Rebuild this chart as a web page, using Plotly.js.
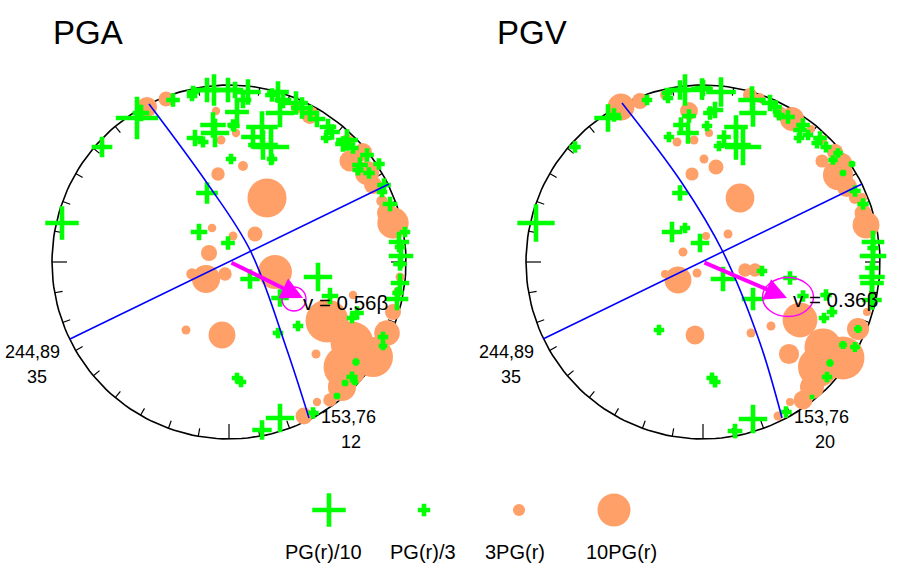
<!DOCTYPE html>
<html><head><meta charset="utf-8">
<script src="https://cdn.plot.ly/plotly-3.0.1.min.js"></script>
<style>html,body{margin:0;padding:0;background:#fff}</style></head>
<body><div id="chart" style="width:900px;height:570px"></div>
<script>
// Net centres and radius
const netCentreX = [229, 703];
const netCentreY = 262;
const netRadius = 177;

// PGA: sites with model over data (circles) and under data (crosses); ratio is PG(r) factor
const pgaCircleX = [147,166,216,236,221,218,243,212,233,209,267,255,350,310,297,347,363,367,373,382,393,387,275,206,192,225,186,222,327,352,345,373,342,387,393,400,398,353,316,330,317,304];
const pgaCircleY = [107,99,111,133,140,174,166,228,236,253,198,234,161,115,107,142,152,173,185,201,223,213,272,279,274,274,330,335,321,343,367,357,387,333,312,277,292,295,354,400,402,416];
const pgaCircleR = [6.3,4.7,2.6,2.6,2.8,4.2,3.1,2.7,2.8,5,12.2,4.7,6.6,5.6,4,4.7,5.6,7.5,5.6,3.6,9.8,6.3,10.6,8.8,3.6,4.2,2.8,8.4,13.4,13.4,13.4,12.5,8.8,8,5,2.8,3.1,2.6,2.8,4.2,2.6,5.3];
const pgaCrossX = [137,141,102,62,173,193,192,214,228,207,213,215,195,203,231,234,237,207,199,228,248,243,235,233,262,253,271,263,272,280,272,278,283,296,302,317,310,328,332,326,347,343,353,367,360,358,369,379,384,382,390,405,399,400,401,400,400,397,398,318,250,280,330,357,352,298,278,383,383,356,352,355,345,337,313,280,262,237,241];
const pgaCrossY = [118,113,147,223,100,92,96,90,90,90,125,133,138,142,159,126,112,193,232,243,92,100,90,125,127,137,147,145,159,113,95,92,100,103,108,119,113,127,132,138,140,144,148,155,165,170,173,164,185,192,204,232,242,247,256,264,283,299,293,277,279,298,296,313,318,326,333,337,346,362,377,382,383,396,413,418,430,378,382];
const pgaCrossR = [12.8,4.7,6,10,3.8,3.4,2.8,9.4,7.2,7.2,7.5,8.4,4.7,3,2.8,3.1,7,6.3,4.7,3.8,7.5,4.7,4.7,3.1,9.4,6.9,10.9,8.8,2.8,8.4,3.8,6.3,4.7,6.9,6.3,4.7,4.7,4.7,4.4,2.8,6.3,4.4,3.1,3.8,4.4,3,3.1,3.1,3.8,2.8,4.1,2.8,5.9,2.8,7.2,3.8,5.3,6.6,3.1,8.4,5.6,5,4.7,3.8,2.8,2.8,2.8,2.8,2.2,1.8,3,1.6,1.6,1.6,3.1,8.4,5.6,2.8,2.8];

// PGV
const pgvCircleX = [621,640,665,689,694,677,704,692,709,716,740,728,706,683,750,760,792,780,811,822,822,835,842,838,847,855,862,863,866,867,745,755,800,771,751,789,858,843,823,818,812,803,790,778,678,665,695,697];
const pgvCircleY = [107,101,95,111,140,142,159,174,133,167,198,234,236,252,95,98,119,113,129,140,161,152,163,175,187,198,198,213,225,312,270,270,320,326,333,354,329,358,347,367,387,400,402,416,280,274,335,273];
const pgvCircleR = [8.4,5,3.1,5.6,2.8,2.8,2.8,4.1,2.5,4.7,9,2.8,2.5,2.8,4.4,3,7.5,4.1,2.5,3.1,4.1,5,6.3,9.4,6.3,3.8,3.1,5.3,8.4,2.5,4.2,4.2,10.9,2.8,2.8,6.3,6.9,13.4,11.6,12.5,7.5,5.9,2.5,2.8,8.4,2.5,5.9,2.8];
const pgvCrossX = [647,667,668,689,608,614,575,536,685,680,702,681,688,669,680,672,685,700,721,715,710,707,703,736,724,719,743,736,752,753,770,775,779,788,803,800,799,808,820,817,826,833,838,843,852,855,863,873,873,873,872,872,872,872,790,762,723,753,803,826,832,824,659,786,753,735,712,715,827,830,843,855,858,812];
const pgvCrossY = [100,93,98,116,118,115,147,223,90,90,89,125,133,137,193,232,228,243,92,110,113,126,88,127,137,146,147,145,100,113,103,107,115,117,125,130,138,135,138,143,147,160,153,173,164,191,204,242,248,256,277,283,268,300,278,271,279,299,296,295,312,318,330,412,419,431,378,382,377,363,345,347,329,397];
const pgvCrossR = [2.8,2.8,2.8,3.8,8.1,3.8,3.1,11.2,9.4,5.6,6.3,4.4,6.3,2.8,4.4,5.9,2.8,5.3,8.8,4.7,3.8,2.8,4.7,6.9,3.8,2.8,10.9,8.8,8.1,8.1,4.7,3.8,3,3.8,3.8,3.8,2.8,2.8,3.8,3,3,2.5,2.5,1.6,1.6,3.1,3.1,6.6,3,7.8,7.5,6.9,3.8,5.6,3.8,2.8,7.2,6.6,3.1,3.1,2.8,2.8,2.8,3.1,8.4,4.1,3,3,2.8,1.8,2,2.6,2,1];

// Great circles
const pgaArcX = [149,207,250,287,309];
const pgaArcY = [104,183,250,350,418];
const pgaLineX = [70,389];
const pgaLineY = [339,184];
const pgvArcX = [622,682,723,760,782];
const pgvArcY = [103,183,252,343,418];
const pgvLineX = [543,862];
const pgvLineY = [339,184];

// Rupture velocity vectors: start, tip, error ellipse (centre, half axes)
const velStartX = [230,703];
const velStartY = [262,262];
const velTipX = [303,787];
const velTipY = [298,298];
const ellCentreX = [294,788];
const ellCentreY = [299,297];
const ellHalfX = [12,25.5];
const ellHalfY = [12,19.5];
const velText = ['v = 0.56\u03b2','v = 0.36\u03b2'];
const velTextX = [345,835];
const velTextY = [302,299];

// Legend
const legendX = [329,424,519,614];
const legendR = [10,3.4,3.8,10.3];
const legendText = ['PG(r)/10','PG(r)/3','3PG(r)','10PG(r)'];
const legendTextX = [323,423,515,621];
const legendTextY = 552;

// Titles and axis labels
const panelTitle = ['PGA','PGV'];
const panelTitleX = [51,495];
const panelTitleY = 32;
const axisLabel = [
 {t:'244,89',x:32,y:352},{t:'35',x:37,y:377},{t:'153,76',x:348,y:417},{t:'12',x:351,y:442},
 {t:'244,89',x:506,y:352},{t:'35',x:511,y:377},{t:'153,76',x:821,y:417},{t:'20',x:825,y:442}];

const PX_PER_RATIO = 3.2;      // size of a mark per unit of ratio
const CROSS_SPAN = 1.4;        // cross-thin spans 1.4 x marker.size
const CROSS_PAD = 1.5;         // extra px so that short crosses keep their arms
const GREEN = '#00ff00', ORANGE = '#ffa069', BLUE = '#0000ff', MAGENTA = '#ff00ff';

function circles(x, y, r) {
  return {type:'scatter',mode:'markers',x:x,y:y,hoverinfo:'skip',cliponaxis:false,
    marker:{symbol:'circle',color:ORANGE,opacity:1,size:r.map(v=>v*PX_PER_RATIO),line:{width:0}}};
}
function crosses(x, y, r) {
  return {type:'scatter',mode:'markers',x:x,y:y,hoverinfo:'skip',cliponaxis:false,
    marker:{symbol:'cross-thin',color:GREEN,opacity:1,size:r.map(v=>(v*PX_PER_RATIO+CROSS_PAD)/CROSS_SPAN),line:{width:4.6,color:GREEN}}};
}
function line(x, y, color, width, shape) {
  return {type:'scatter',mode:'lines',x:x,y:y,hoverinfo:'skip',cliponaxis:false,
    line:{color:color,width:width,shape:shape||'linear',smoothing:1}};
}
function net(cx) {
  const xs=[], ys=[];
  for (let d=0;d<=360;d+=2){const a=d*Math.PI/180;xs.push(cx+netRadius*Math.sin(a));ys.push(netCentreY-netRadius*Math.cos(a));}
  return line(xs,ys,'#000',1.6);
}
function ticks(cx) {
  const xs=[], ys=[];
  for (let d=0;d<360;d+=10){
    const a=d*Math.PI/180, len=(d%90===0)?15:8;
    xs.push(cx+netRadius*Math.sin(a),cx+(netRadius-len)*Math.sin(a),null);
    ys.push(netCentreY-netRadius*Math.cos(a),netCentreY-(netRadius-len)*Math.cos(a),null);
  }
  return line(xs,ys,'#000',1.2);
}

const traces = [
  net(netCentreX[0]), ticks(netCentreX[0]), net(netCentreX[1]), ticks(netCentreX[1]),
  circles(pgaCircleX,pgaCircleY,pgaCircleR), circles(pgvCircleX,pgvCircleY,pgvCircleR),
  crosses(pgaCrossX,pgaCrossY,pgaCrossR), crosses(pgvCrossX,pgvCrossY,pgvCrossR),
  line(pgaArcX,pgaArcY,BLUE,1.6,'spline'), line(pgaLineX,pgaLineY,BLUE,1.6),
  line(pgvArcX,pgvArcY,BLUE,1.6,'spline'), line(pgvLineX,pgvLineY,BLUE,1.6),
  crosses(legendX.slice(0,2),[510,510],legendR.slice(0,2)),
  circles(legendX.slice(2),[510,510],legendR.slice(2))
];

const textFont = {family:'Liberation Sans, Arial, sans-serif',color:'#000'};
const annotations = [];
panelTitle.forEach((t,i)=>annotations.push({text:t,x:panelTitleX[i],y:panelTitleY,xref:'x',yref:'y',xanchor:'left',yanchor:'middle',showarrow:false,font:Object.assign({size:33},textFont)}));
axisLabel.forEach(l=>annotations.push({text:l.t,x:l.x,y:l.y,xref:'x',yref:'y',xanchor:'center',yanchor:'middle',showarrow:false,font:Object.assign({size:18},textFont)}));
legendText.forEach((t,i)=>annotations.push({text:t,x:legendTextX[i],y:legendTextY,xref:'x',yref:'y',xanchor:'center',yanchor:'middle',showarrow:false,font:Object.assign({size:20},textFont)}));
velTipX.forEach((_,i)=>annotations.push({x:velTipX[i],y:velTipY[i],ax:velStartX[i],ay:velStartY[i],xref:'x',yref:'y',axref:'x',ayref:'y',text:'',showarrow:true,arrowhead:2,arrowsize:1.1,arrowwidth:4,arrowcolor:MAGENTA}));
velText.forEach((t,i)=>annotations.push({text:t,x:velTextX[i],y:velTextY[i],xref:'x',yref:'y',xanchor:'center',yanchor:'middle',showarrow:false,font:Object.assign({size:20.5},textFont)}));

const shapes = ellCentreX.map((c,i)=>({type:'circle',xref:'x',yref:'y',layer:'above',
  x0:c-ellHalfX[i],x1:c+ellHalfX[i],y0:ellCentreY[i]-ellHalfY[i],y1:ellCentreY[i]+ellHalfY[i],line:{color:MAGENTA,width:1.4}}));

const layout = {width:900,height:570,margin:{l:0,r:0,t:0,b:0},showlegend:false,
  paper_bgcolor:'#fff',plot_bgcolor:'#fff',
  xaxis:{range:[0,900],visible:false,fixedrange:true},
  yaxis:{range:[570,0],visible:false,fixedrange:true},
  annotations:annotations,shapes:shapes};
Plotly.newPlot('chart',traces,layout,{displayModeBar:false,staticPlot:true});
</script></body></html>
